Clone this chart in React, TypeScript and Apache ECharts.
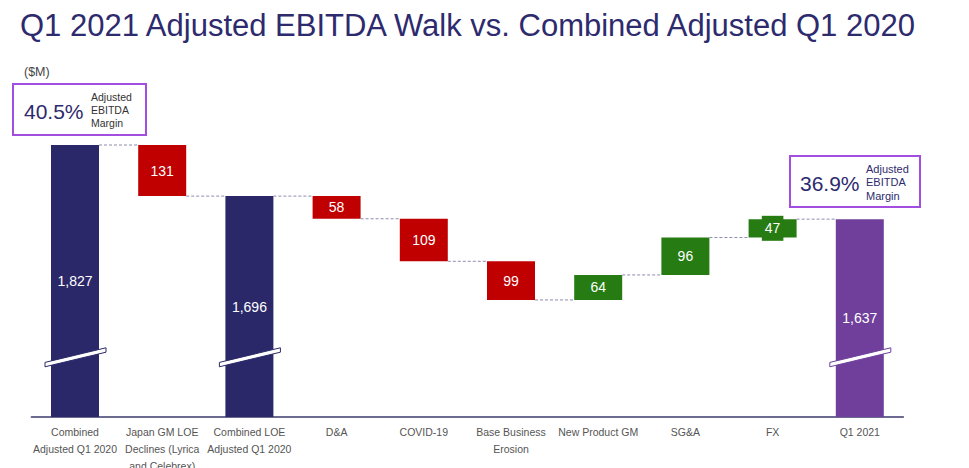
import React, { useEffect, useRef } from "react";
import * as echarts from "echarts";

const categories = [
  "Combined\nAdjusted Q1 2020",
  "Japan GM LOE\nDeclines (Lyrica\nand Celebrex)",
  "Combined LOE\nAdjusted Q1 2020",
  "D&A",
  "COVID-19",
  "Base Business\nErosion",
  "New Product GM",
  "SG&A",
  "FX",
  "Q1 2021",
];
const values = [1827, -131, 1696, -58, -109, -99, 64, 96, 47, 1637];
const kinds = ["total", "down", "total", "down", "down", "down", "up", "up", "up", "totalAlt"];
const yMin = 1130;
const yMax = 1827;
const breakValue = 1283;
const marginLeft = "40.5%";
const marginRight = "36.9%";

const COLORS: Record<string, string> = {
  total: "#2b2869",
  totalAlt: "#6f3f9b",
  down: "#c00000",
  up: "#267b13",
};
const NAVY = "#2d2a6e";
const BOX = "#a24fe0";
const FONT = "Liberation Sans, Arial, sans-serif";

export default function App() {
  const ref = useRef<HTMLDivElement>(null);
  useEffect(() => {
    if (!ref.current) return;
    const chart = echarts.init(ref.current, null, { renderer: "svg" });

    const base: number[] = [];
    const height: number[] = [];
    const level: number[] = [];
    let running = 0;
    values.forEach((v, i) => {
      if (kinds[i].startsWith("total")) {
        base.push(yMin);
        height.push(v - yMin);
        running = v;
      } else if (v < 0) {
        running += v;
        base.push(running);
        height.push(-v);
      } else {
        base.push(running);
        height.push(v);
        running += v;
      }
      level.push(running);
    });

    const barData = height.map((h, i) => {
      const c = COLORS[kinds[i]];
      const item: any = { value: h, itemStyle: { color: c } };
      if (categories[i] === "FX") {
        item.label = { backgroundColor: c, padding: [4, 3, 4, 3], lineHeight: 17 };
      }
      return item;
    });

    const connectorData = level.slice(0, level.length - 1).map((lv, i) => [i, lv]);
    const breakData = kinds
      .map((k, i) => (k.startsWith("total") ? [i, breakValue, k === "totalAlt" ? 1 : 0] : null))
      .filter(Boolean);

    const smallText = "Adjusted\nEBITDA\nMargin";

    chart.setOption({
      animation: false,
      grid: {
        left: 31.4,
        right: 65.6,
        top: 145,
        bottom: 51,
        containLabel: false,
        outerBoundsMode: "none",
      },
      xAxis: {
        type: "category",
        data: categories,
        axisLine: { lineStyle: { color: "#3d3a6e", width: 1.5 } },
        axisTick: { show: false },
        axisLabel: {
          interval: 0,
          margin: 6,
          color: "#555",
          fontSize: 10.5,
          lineHeight: 17,
          fontFamily: FONT,
        },
      },
      yAxis: {
        type: "value",
        min: yMin,
        max: yMax,
        show: false,
        splitLine: { show: false },
      },
      series: [
        {
          type: "bar",
          stack: "w",
          barWidth: 48,
          silent: true,
          itemStyle: { color: "transparent" },
          data: base,
          z: 1,
        },
        {
          type: "bar",
          stack: "w",
          barWidth: 48,
          data: barData,
          z: 2,
          label: {
            show: true,
            position: "inside",
            color: "#fff",
            fontSize: 14,
            fontFamily: FONT,
            formatter: (p: any) => Math.abs(values[p.dataIndex]).toLocaleString("en-US"),
          },
        },
        {
          type: "custom",
          z: 3,
          silent: true,
          data: connectorData,
          renderItem: (params: any, api: any) => {
            const i = api.value(0);
            const lv = api.value(1);
            const p = api.coord([i, lv]);
            const q = api.coord([i + 1, lv]);
            return {
              type: "line",
              shape: { x1: p[0] + 24, y1: p[1], x2: q[0] - 24, y2: q[1] },
              style: { stroke: "#8f8cab", lineWidth: 1, lineDash: [3, 2] },
            };
          },
        },
        {
          type: "custom",
          z: 4,
          silent: true,
          data: breakData,
          renderItem: (params: any, api: any) => {
            const p = api.coord([api.value(0), api.value(1)]);
            const col = api.value(2) === 1 ? COLORS.totalAlt : COLORS.total;
            const cx = p[0] + 0.5;
            const cy = p[1];
            const hw = 30.5;
            const rise = 7.3;
            const t = 2.2;
            return {
              type: "polygon",
              shape: {
                points: [
                  [cx - hw, cy + rise - t],
                  [cx + hw, cy - rise - t],
                  [cx + hw, cy - rise + t],
                  [cx - hw, cy + rise + t],
                ],
              },
              style: { fill: "#fff", stroke: col, lineWidth: 1 },
            };
          },
        },
      ],
      graphic: [
        {
          type: "text",
          left: 20,
          top: 10,
          style: {
            text: "Q1 2021 Adjusted EBITDA Walk vs. Combined Adjusted Q1 2020",
            fill: NAVY,
            font: "31px " + FONT,
          },
        },
        {
          type: "text",
          left: 24,
          top: 65,
          style: { text: "($M)", fill: "#444", font: "12.5px " + FONT },
        },
        {
          type: "rect",
          shape: { x: 13, y: 84, width: 133, height: 51 },
          style: { fill: "#fff", stroke: BOX, lineWidth: 2 },
        },
        {
          type: "text",
          x: 24,
          y: 111,
          style: {
            text: marginLeft,
            fill: NAVY,
            font: "21px " + FONT,
            verticalAlign: "middle",
          },
        },
        {
          type: "text",
          x: 91,
          y: 110,
          style: {
            text: smallText,
            fill: "#333",
            font: "10.5px " + FONT,
            lineHeight: 13,
            verticalAlign: "middle",
          },
        },
        {
          type: "rect",
          shape: { x: 790, y: 156, width: 130, height: 51 },
          style: { fill: "#fff", stroke: BOX, lineWidth: 2 },
        },
        {
          type: "text",
          x: 800,
          y: 183,
          style: {
            text: marginRight,
            fill: NAVY,
            font: "21px " + FONT,
            verticalAlign: "middle",
          },
        },
        {
          type: "text",
          x: 866,
          y: 182,
          style: {
            text: smallText,
            fill: NAVY,
            font: "11px " + FONT,
            lineHeight: 13.5,
            verticalAlign: "middle",
          },
        },
      ],
    });
    return () => chart.dispose();
  }, []);
  return (
    <div
      ref={ref}
      style={{ position: "fixed", left: 0, top: 0, width: 969, height: 468, background: "#fff" }}
    />
  );
}
